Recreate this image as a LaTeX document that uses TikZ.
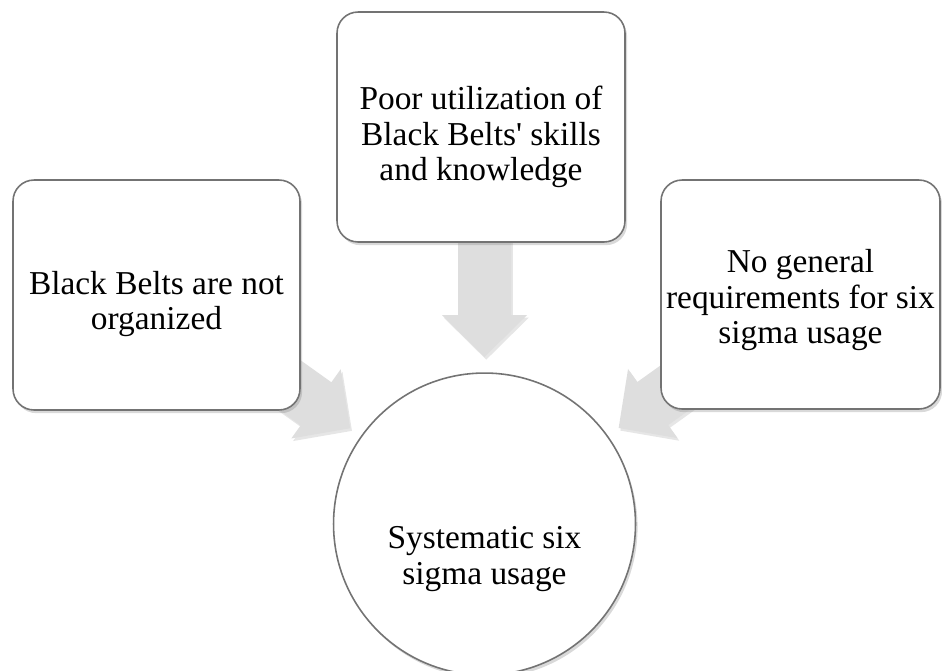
\documentclass[tikz,border=0pt]{standalone}
\usepackage{fontspec}
\setmainfont{Liberation Serif}
\usetikzlibrary{shadows,
                backgrounds,
                calc}

\tikzset{
  box/.style={draw=black!55, line width=0.9pt, fill=white, rounded corners=0.42cm,
    drop shadow={shadow xshift=1.2pt, shadow yshift=-1.8pt, opacity=0.3}},
  circ/.style={circle, draw=black!55, line width=0.9pt, fill=white,
    drop shadow={shadow xshift=1.2pt, shadow yshift=-1.8pt, opacity=0.3}},
  txt/.style={align=center, font=\fontsize{19}{20.2}\selectfont},
  fat/.style={fill=black!13, drop shadow={shadow xshift=1pt, shadow yshift=-1.5pt, opacity=0.2}}
}
\newcommand{\fatarrow}[2]{%
  \begin{scope}[shift={(#1)}, rotate=#2]
    \path[fat] (0,0) -- (42,42.5) -- (42,26.5) -- (140,26.5) -- (140,-26.5)
      -- (42,-26.5) -- (42,-42.5) -- cycle;
  \end{scope}}

\begin{document}
\begin{tikzpicture}[x=0.02cm, y=-0.02cm]
\useasboundingbox (0,0) rectangle (942,670);

\node[circ, minimum size=6.04cm] (sys) at (484.5,524) {};
\node[box, minimum width=5.76cm, minimum height=4.6cm] (poor) at (481,127) {};
\node[box, minimum width=5.74cm, minimum height=4.6cm] (org) at (156.5,295) {};
\node[box, minimum width=5.58cm, minimum height=4.58cm] (req) at (800.5,294.5) {};

% texts sit a little below the centres
\node[txt] (systxt) at ([yshift=-0.7cm]sys.center) {Systematic six\\sigma usage};
\node[txt] (poortxt) at ([yshift=-0.2cm]poor.center)
  {Poor utilization of\\Black Belts\textquotesingle{} skills\\and knowledge};
\node[txt] (orgtxt) at ([yshift=-0.18cm]org.center) {Black Belts are not\\organized};
\node[txt] (reqtxt) at ([yshift=-0.12cm]req.center)
  {No general\\requirements for six\\sigma usage};

\coordinate (tipT) at ($(sys.center)+(90:3.34cm)$);
\coordinate (tipL) at ($(sys.center)+(144.5:3.3cm)$);
\coordinate (tipR) at ($(sys.center)+(35.6:3.3cm)$);

\begin{scope}[on background layer]
\fatarrow{tipT}{90}
\fatarrow{tipL}{144.5}
\fatarrow{tipR}{35.6}
\end{scope}

\end{tikzpicture}
\end{document}
